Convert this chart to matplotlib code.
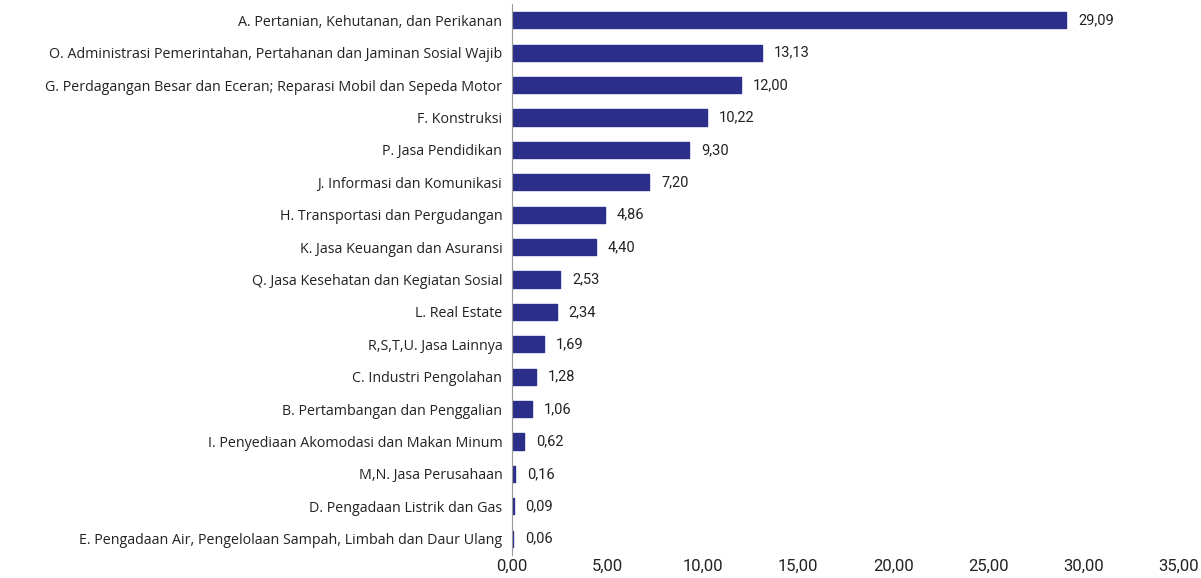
import matplotlib
matplotlib.use("Agg")
import matplotlib.pyplot as plt

categories = [
    "A. Pertanian, Kehutanan, dan Perikanan",
    "O. Administrasi Pemerintahan, Pertahanan dan Jaminan Sosial Wajib",
    "G. Perdagangan Besar dan Eceran; Reparasi Mobil dan Sepeda Motor",
    "F. Konstruksi",
    "P. Jasa Pendidikan",
    "J. Informasi dan Komunikasi",
    "H. Transportasi dan Pergudangan",
    "K. Jasa Keuangan dan Asuransi",
    "Q. Jasa Kesehatan dan Kegiatan Sosial",
    "L. Real Estate",
    "R,S,T,U. Jasa Lainnya",
    "C. Industri Pengolahan",
    "B. Pertambangan dan Penggalian",
    "I. Penyediaan Akomodasi dan Makan Minum",
    "M,N. Jasa Perusahaan",
    "D. Pengadaan Listrik dan Gas",
    "E. Pengadaan Air, Pengelolaan Sampah, Limbah dan Daur Ulang",
]
values = [29.09, 13.13, 12.00, 10.22, 9.30, 7.20, 4.86, 4.40, 2.53, 2.34,
          1.69, 1.28, 1.06, 0.62, 0.16, 0.09, 0.06]
xticks = [0, 5, 10, 15, 20, 25, 30, 35]

def fmt(v):
    return f"{v:.2f}".replace(".", ",")

fig = plt.figure(figsize=(12.01, 5.78), dpi=100)
ax = fig.add_axes([512/1201, 1 - 555/578, (1179 - 512)/1201, (555 - 4)/578])

color = "#2b2f8a"
y = list(range(len(categories)))
ax.barh(y, values, height=0.5, color=color, edgecolor=color,
        linewidth=1.0, joinstyle="round")
for yi, v in zip(y, values):
    ax.text(v + 0.62, yi, fmt(v), va="center", ha="left",
            fontsize=10.5, family="Roboto", color="#222222")

ax.set_yticks(y)
ax.set_yticklabels(categories, fontsize=10.3, family="Open Sans", color="#222222")
ax.set_ylim(len(categories) - 0.5, -0.5)
ax.set_xlim(0, 35)
ax.set_xticks(xticks)
ax.set_xticklabels([fmt(t) for t in xticks], fontsize=12, family="Roboto",
                   color="#222222")
ax.tick_params(axis="both", length=0)
ax.tick_params(axis="y", pad=7)
ax.tick_params(axis="x", pad=3)
for s in ["top", "right", "bottom"]:
    ax.spines[s].set_visible(False)
ax.spines["left"].set_color("#9a9a9a")
ax.spines["left"].set_linewidth(0.8)

fig.savefig("out.png", dpi=100, facecolor="white")
